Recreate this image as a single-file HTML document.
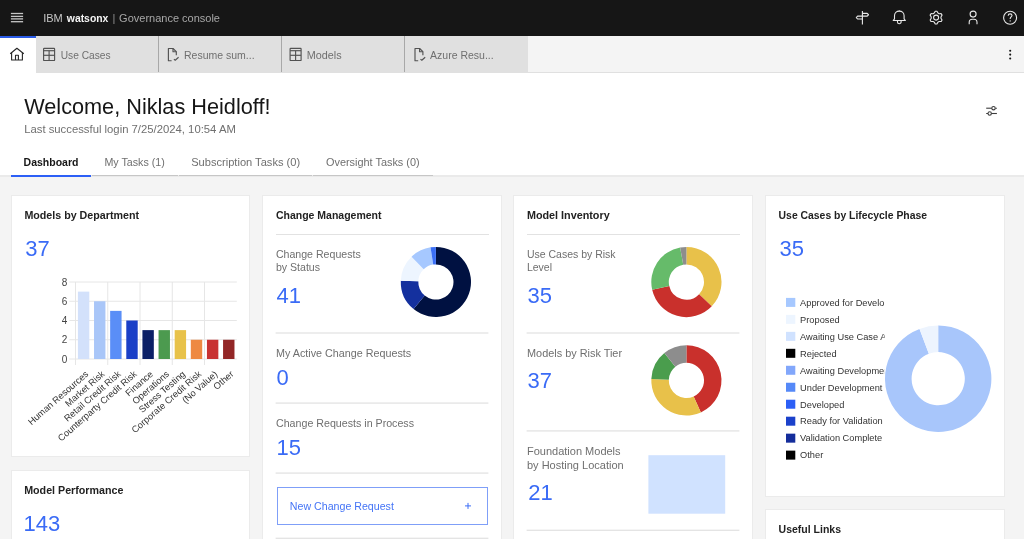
<!DOCTYPE html>
<html><head><meta charset="utf-8"><style>
html,body{margin:0;padding:0;}
body{width:1024px;height:539px;overflow:hidden;position:relative;background:#f4f4f4;font-family:"Liberation Sans", sans-serif;}
.r,.t,.card,.btn{position:absolute;}
.t{white-space:nowrap;line-height:1;}
.card{background:#fff;border:1px solid #ebebeb;}
.btn{border:1px solid #7f9ff8;}
svg{position:absolute;left:0;top:0;will-change:transform;}
svg text{font-family:"Liberation Sans", sans-serif;}
</style></head><body>
<div class="r" style="left:0px;top:0px;width:1024px;height:36px;background:#161616;"></div>
<div class="r" style="left:0px;top:36px;width:1024px;height:36px;background:#f4f4f4;"></div>
<div class="r" style="left:0px;top:72px;width:1024px;height:1px;background:#e0e0e0;"></div>
<div class="r" style="left:0px;top:73px;width:1024px;height:102px;background:#ffffff;"></div>
<div class="r" style="left:0px;top:175px;width:1024px;height:2px;background:#eaeaea;"></div>
<div class="r" style="left:0px;top:177px;width:1024px;height:362px;background:#f4f4f4;"></div>
<div class="r" style="left:0px;top:36px;width:36px;height:37px;background:#ffffff;"></div>
<div class="r" style="left:0px;top:36px;width:36px;height:2px;background:#2a5be6;"></div>
<div class="r" style="left:36px;top:36px;width:491.5px;height:36px;background:#e0e0e0;"></div>
<div class="r" style="left:158px;top:36px;width:1px;height:36px;background:#a8a8a8;"></div>
<div class="r" style="left:281px;top:36px;width:1px;height:36px;background:#a8a8a8;"></div>
<div class="r" style="left:404px;top:36px;width:1px;height:36px;background:#a8a8a8;"></div>
<div class="card" style="left:11px;top:195px;width:237px;height:260px;"></div>
<div class="card" style="left:11px;top:470px;width:237px;height:98px;"></div>
<div class="card" style="left:262px;top:195px;width:238px;height:398px;"></div>
<div class="card" style="left:513px;top:195px;width:238px;height:398px;"></div>
<div class="card" style="left:765px;top:195px;width:238px;height:300px;"></div>
<div class="card" style="left:765px;top:509px;width:238px;height:98px;"></div>
<div class="r" style="left:11px;top:175px;width:80px;height:2px;background:#2c5ff6;"></div>
<div class="r" style="left:92px;top:175px;width:86px;height:1px;background:#c6c6c6;"></div>
<div class="r" style="left:179px;top:175px;width:133px;height:1px;background:#c6c6c6;"></div>
<div class="r" style="left:313px;top:175px;width:120px;height:1px;background:#c6c6c6;"></div>
<div class="r" style="left:275.5px;top:234px;width:213px;height:1px;background:#e2e2e2;"></div>
<div class="btn" style="left:277px;top:487px;width:209px;height:35.5px;"></div>
<div class="r" style="left:526.5px;top:234px;width:213px;height:1px;background:#e2e2e2;"></div>
<svg width="1024" height="539" viewBox="0 0 1024 539">
<rect x="10.9" y="12.85" width="12.2" height="1.3" fill="#c6c6c6"/>
<rect x="10.9" y="15.75" width="12.2" height="1.3" fill="#c6c6c6"/>
<rect x="10.9" y="18.25" width="12.2" height="1.3" fill="#c6c6c6"/>
<rect x="10.9" y="21.05" width="12.2" height="1.3" fill="#c6c6c6"/>
<g transform="translate(852,8)" fill="none" stroke="#e8e8e8" stroke-width="1.1" stroke-linejoin="round"><line x1="10.4" y1="3" x2="10.4" y2="16.4"/><path d="M10.4,5.4 H15.2 L16.5,6.75 L15.2,8.1 H10.4"/><path d="M10.4,8.1 H5.6 L4.3,9.55 L5.6,11.0 H10.4"/></g>
<g transform="translate(888,8)" fill="none" stroke="#e8e8e8" stroke-width="1.1" stroke-linejoin="round"><path d="M5.2,12.5 L6.5,10.9 V7.8 C6.5,5 8.6,3.1 11.3,3.1 C14,3.1 16.1,5 16.1,7.8 V10.9 L17.4,12.5 Z"/><path d="M9.5,12.6 V13.9 A1.8,1.8 0 0 0 13.1,13.9 V12.6"/><line x1="11.3" y1="2.4" x2="11.3" y2="3.3"/></g>
<path d="M935.26,11.21 L936.94,11.21 L937.98,13.07 L939.08,13.71 L941.22,13.67 L942.06,15.13 L940.96,16.96 L940.96,18.24 L942.06,20.07 L941.22,21.53 L939.08,21.49 L937.98,22.13 L936.94,23.99 L935.26,23.99 L934.22,22.13 L933.12,21.49 L930.98,21.53 L930.14,20.07 L931.24,18.24 L931.24,16.96 L930.14,15.13 L930.98,13.67 L933.12,13.71 L934.22,13.07 Z" fill="none" stroke="#e8e8e8" stroke-width="1.1" stroke-linejoin="round"/>
<circle cx="936.1" cy="17.6" r="2.5" fill="none" stroke="#e8e8e8" stroke-width="1.1"/>
<circle cx="973.1" cy="14.1" r="3.0" fill="none" stroke="#e8e8e8" stroke-width="1.1"/>
<path d="M969.2,24.2 V22.3 C969.2,20.5 970.5,19.3 972.3,19.3 H973.9 C975.7,19.3 977.0,20.5 977.0,22.3 V24.2" fill="none" stroke="#e8e8e8" stroke-width="1.1"/>
<circle cx="1010.1" cy="17.7" r="6.5" fill="none" stroke="#e8e8e8" stroke-width="1.1"/>
<path d="M1008.2,15.8 C1008.2,14.6 1009,13.9 1010.1,13.9 C1011.2,13.9 1012,14.6 1012,15.6 C1012,16.8 1010.2,17.1 1010.2,18.5 V19" fill="none" stroke="#e8e8e8" stroke-width="1.1"/>
<circle cx="1010.2" cy="20.9" r="0.7" fill="#e8e8e8"/>
<g fill="none" stroke="#262626" stroke-width="1.1" stroke-linejoin="round"><path d="M10.2,53.7 L16.9,48.3 L23.8,53.7"/><path d="M11.6,52.6 V60 H22.4 V52.6"/><path d="M15.5,60 V55.2 H18.4 V60"/></g>
<g transform="translate(43,47.7)" fill="none" stroke="#525252" stroke-width="1.15"><rect x="0.6" y="0.6" width="11" height="12.2" rx="0.6"/><line x1="0.6" y1="3" x2="11.6" y2="3"/><line x1="0.6" y1="7.6" x2="11.6" y2="7.6"/><line x1="6.1" y1="3" x2="6.1" y2="12.8"/></g>
<g transform="translate(167.4,48)" fill="none" stroke="#525252" stroke-width="1.15" stroke-linejoin="round"><path d="M4.2,12.7 H1 V0.5 H5.6 L8.9,3.7 V7.2"/><path d="M5.6,0.5 V3.7 H8.9"/><path d="M6.5,11.1 L7.8,12.2 L11.2,9.3"/></g>
<g transform="translate(289.5,47.7)" fill="none" stroke="#525252" stroke-width="1.15"><rect x="0.6" y="0.6" width="11" height="12.2" rx="0.6"/><line x1="0.6" y1="3" x2="11.6" y2="3"/><line x1="0.6" y1="7.6" x2="11.6" y2="7.6"/><line x1="6.1" y1="3" x2="6.1" y2="12.8"/></g>
<g transform="translate(414,48)" fill="none" stroke="#525252" stroke-width="1.15" stroke-linejoin="round"><path d="M4.2,12.7 H1 V0.5 H5.6 L8.9,3.7 V7.2"/><path d="M5.6,0.5 V3.7 H8.9"/><path d="M6.5,11.1 L7.8,12.2 L11.2,9.3"/></g>
<circle cx="1010.2" cy="50.7" r="1.05" fill="#161616"/>
<circle cx="1010.2" cy="54.6" r="1.05" fill="#161616"/>
<circle cx="1010.2" cy="58.5" r="1.05" fill="#161616"/>
<g fill="none" stroke="#3d3d3d" stroke-width="1.1"><line x1="986.2" y1="108.2" x2="991.8" y2="108.2"/><line x1="995.3" y1="108.2" x2="996.9" y2="108.2"/><circle cx="993.5" cy="108.2" r="1.7"/><line x1="986.2" y1="113.5" x2="988" y2="113.5"/><line x1="991.4" y1="113.5" x2="996.9" y2="113.5"/><circle cx="989.7" cy="113.5" r="1.7"/></g>
<rect x="275.6" y="332.35" width="212.8" height="1.3" fill="#e3e3e3"/>
<rect x="275.6" y="402.45" width="212.8" height="1.3" fill="#e3e3e3"/>
<rect x="275.6" y="472.45" width="212.8" height="1.3" fill="#e3e3e3"/>
<rect x="275.6" y="537.65" width="212.8" height="1.3" fill="#e3e3e3"/>
<g stroke="#3d6ef7" stroke-width="1"><line x1="465" y1="505.9" x2="471" y2="505.9"/><line x1="468" y1="502.9" x2="468" y2="508.9"/></g>
<rect x="526.6" y="332.35" width="212.8" height="1.3" fill="#e3e3e3"/>
<rect x="526.6" y="430.25" width="212.8" height="1.3" fill="#e3e3e3"/>
<rect x="526.6" y="529.65" width="212.8" height="1.3" fill="#e3e3e3"/>
<rect x="648.4" y="455.2" width="76.8" height="58.5" fill="#d0e2ff"/>
<path d="M435.90,246.90 A35.1,35.1 0 1 1 413.57,309.08 L424.70,295.58 A17.6,17.6 0 1 0 435.90,264.40 Z" fill="#001141"/>
<path d="M413.57,309.08 A35.1,35.1 0 0 1 400.83,280.66 L418.31,281.33 A17.6,17.6 0 0 0 424.70,295.58 Z" fill="#14309e"/>
<path d="M400.83,280.66 A35.1,35.1 0 0 1 411.56,256.71 L423.70,269.32 A17.6,17.6 0 0 0 418.31,281.33 Z" fill="#edf5ff"/>
<path d="M411.56,256.71 A35.1,35.1 0 0 1 430.54,247.31 L433.21,264.61 A17.6,17.6 0 0 0 423.70,269.32 Z" fill="#a6c8ff"/>
<path d="M430.54,247.31 A35.1,35.1 0 0 1 435.90,246.90 L435.90,264.40 A17.6,17.6 0 0 0 433.21,264.61 Z" fill="#3b6ff5"/>
<path d="M686.40,246.90 A35.1,35.1 0 0 1 711.77,306.26 L699.12,294.16 A17.6,17.6 0 0 0 686.40,264.40 Z" fill="#e8c14a"/>
<path d="M711.77,306.26 A35.1,35.1 0 0 1 652.18,289.81 L669.24,285.92 A17.6,17.6 0 0 0 699.12,294.16 Z" fill="#c9302c"/>
<path d="M652.18,289.81 A35.1,35.1 0 0 1 680.13,247.46 L683.26,264.68 A17.6,17.6 0 0 0 669.24,285.92 Z" fill="#66bb6a"/>
<path d="M680.13,247.46 A35.1,35.1 0 0 1 686.40,246.90 L686.40,264.40 A17.6,17.6 0 0 0 683.26,264.68 Z" fill="#8d8d8d"/>
<path d="M686.40,345.30 A35.1,35.1 0 0 1 700.86,412.38 L693.65,396.44 A17.6,17.6 0 0 0 686.40,362.80 Z" fill="#c9302c"/>
<path d="M700.86,412.38 A35.1,35.1 0 0 1 651.33,378.91 L668.82,379.65 A17.6,17.6 0 0 0 693.65,396.44 Z" fill="#e8c14a"/>
<path d="M651.33,378.91 A35.1,35.1 0 0 1 664.35,353.09 L675.34,366.71 A17.6,17.6 0 0 0 668.82,379.65 Z" fill="#4a9d4d"/>
<path d="M664.35,353.09 A35.1,35.1 0 0 1 686.40,345.30 L686.40,362.80 A17.6,17.6 0 0 0 675.34,366.71 Z" fill="#8d8d8d"/>
<path d="M938.20,325.50 A53.2,53.2 0 1 1 919.51,328.89 L928.85,353.80 A26.6,26.6 0 1 0 938.20,352.10 Z" fill="#a8c6fb"/>
<path d="M919.51,328.89 A53.2,53.2 0 0 1 938.20,325.50 L938.20,352.10 A26.6,26.6 0 0 0 928.85,353.80 Z" fill="#edf4fe"/>
<defs><clipPath id="legclip"><rect x="780" y="280" width="104.7" height="200"/></clipPath></defs>
<rect x="786" y="297.90" width="9.3" height="9" fill="#a6c8ff"/>
<text x="800.1" y="305.70" font-size="9.25" fill="#333333" clip-path="url(#legclip)">Approved for Development</text>
<rect x="786" y="314.87" width="9.3" height="9" fill="#edf5ff"/>
<text x="800.1" y="322.67" font-size="9.25" fill="#333333" clip-path="url(#legclip)">Proposed</text>
<rect x="786" y="331.84" width="9.3" height="9" fill="#d0e2ff"/>
<text x="800.1" y="339.64" font-size="9.25" fill="#333333" clip-path="url(#legclip)">Awaiting Use Case Approval</text>
<rect x="786" y="348.81" width="9.3" height="9" fill="#000000"/>
<text x="800.1" y="356.61" font-size="9.25" fill="#333333" clip-path="url(#legclip)">Rejected</text>
<rect x="786" y="365.78" width="9.3" height="9" fill="#82a7fb"/>
<text x="800.1" y="373.58" font-size="9.25" fill="#333333" clip-path="url(#legclip)">Awaiting Development</text>
<rect x="786" y="382.75" width="9.3" height="9" fill="#5589f8"/>
<text x="800.1" y="390.55" font-size="9.25" fill="#333333" clip-path="url(#legclip)">Under Development</text>
<rect x="786" y="399.72" width="9.3" height="9" fill="#2c5ff6"/>
<text x="800.1" y="407.52" font-size="9.25" fill="#333333" clip-path="url(#legclip)">Developed</text>
<rect x="786" y="416.69" width="9.3" height="9" fill="#1b41cb"/>
<text x="800.1" y="424.49" font-size="9.25" fill="#333333" clip-path="url(#legclip)">Ready for Validation</text>
<rect x="786" y="433.66" width="9.3" height="9" fill="#142d9b"/>
<text x="800.1" y="441.46" font-size="9.25" fill="#333333" clip-path="url(#legclip)">Validation Complete</text>
<rect x="786" y="450.63" width="9.3" height="9" fill="#000000"/>
<text x="800.1" y="458.43" font-size="9.25" fill="#333333" clip-path="url(#legclip)">Other</text>
<line x1="69.3" y1="282.0" x2="236.8" y2="282.0" stroke="#e6e6e6" stroke-width="1"/>
<text x="67.4" y="285.60" font-size="10" fill="#444444" text-anchor="end">8</text>
<line x1="69.3" y1="301.25" x2="236.8" y2="301.25" stroke="#e6e6e6" stroke-width="1"/>
<text x="67.4" y="304.85" font-size="10" fill="#444444" text-anchor="end">6</text>
<line x1="69.3" y1="320.5" x2="236.8" y2="320.5" stroke="#e6e6e6" stroke-width="1"/>
<text x="67.4" y="324.10" font-size="10" fill="#444444" text-anchor="end">4</text>
<line x1="69.3" y1="339.75" x2="236.8" y2="339.75" stroke="#e6e6e6" stroke-width="1"/>
<text x="67.4" y="343.35" font-size="10" fill="#444444" text-anchor="end">2</text>
<line x1="69.3" y1="359.0" x2="236.8" y2="359.0" stroke="#e6e6e6" stroke-width="1"/>
<text x="67.4" y="362.60" font-size="10" fill="#444444" text-anchor="end">0</text>
<line x1="75.50" y1="282" x2="75.50" y2="365" stroke="#e6e6e6" stroke-width="1"/>
<line x1="107.76" y1="282" x2="107.76" y2="365" stroke="#e6e6e6" stroke-width="1"/>
<line x1="140.02" y1="282" x2="140.02" y2="365" stroke="#e6e6e6" stroke-width="1"/>
<line x1="172.28" y1="282" x2="172.28" y2="365" stroke="#e6e6e6" stroke-width="1"/>
<line x1="204.54" y1="282" x2="204.54" y2="365" stroke="#e6e6e6" stroke-width="1"/>
<rect x="77.90" y="291.62" width="11.4" height="67.38" fill="#d3e1fb"/>
<text transform="translate(89.10,375) rotate(-41.2)" font-size="9.25" fill="#333333" text-anchor="end">Human Resources</text>
<rect x="94.03" y="301.25" width="11.4" height="57.75" fill="#a9c6f8"/>
<text transform="translate(105.23,375) rotate(-41.2)" font-size="9.25" fill="#333333" text-anchor="end">Market Risk</text>
<rect x="110.16" y="310.88" width="11.4" height="48.12" fill="#5a8ef7"/>
<text transform="translate(121.36,375) rotate(-41.2)" font-size="9.25" fill="#333333" text-anchor="end">Retail Credit Risk</text>
<rect x="126.29" y="320.50" width="11.4" height="38.50" fill="#1a3fc7"/>
<text transform="translate(137.49,375) rotate(-41.2)" font-size="9.25" fill="#333333" text-anchor="end">Counterparty Credit Risk</text>
<rect x="142.42" y="330.12" width="11.4" height="28.88" fill="#0b1f66"/>
<text transform="translate(153.62,375) rotate(-41.2)" font-size="9.25" fill="#333333" text-anchor="end">Finance</text>
<rect x="158.55" y="330.12" width="11.4" height="28.88" fill="#4c9a4f"/>
<text transform="translate(169.75,375) rotate(-41.2)" font-size="9.25" fill="#333333" text-anchor="end">Operations</text>
<rect x="174.68" y="330.12" width="11.4" height="28.88" fill="#e8c24a"/>
<text transform="translate(185.88,375) rotate(-41.2)" font-size="9.25" fill="#333333" text-anchor="end">Stress Testing</text>
<rect x="190.81" y="339.75" width="11.4" height="19.25" fill="#ee8942"/>
<text transform="translate(202.01,375) rotate(-41.2)" font-size="9.25" fill="#333333" text-anchor="end">Corporate Credit Risk</text>
<rect x="206.94" y="339.75" width="11.4" height="19.25" fill="#c83232"/>
<text transform="translate(218.14,375) rotate(-41.2)" font-size="9.25" fill="#333333" text-anchor="end">(No Value)</text>
<rect x="223.07" y="339.75" width="11.4" height="19.25" fill="#922626"/>
<text transform="translate(234.27,375) rotate(-41.2)" font-size="9.25" fill="#333333" text-anchor="end">Other</text>
</svg>
<div id="tx" style="position:absolute;left:0;top:0;width:1024px;height:539px;will-change:transform;">
<div class="t" style="left:43.20px;top:13px;font-size:11px;color:#c6c6c6;">IBM</div>
<div class="t" style="left:66.80px;top:14px;font-size:10.4px;font-weight:700;color:#f4f4f4;">watsonx</div>
<div class="t" style="left:112.50px;top:13px;font-size:11px;color:#8d8d8d;">|</div>
<div class="t" style="left:119.10px;top:13px;font-size:11px;color:#a8a8a8;">Governance console</div>
<div class="t" style="left:60.70px;top:51px;font-size:10.2px;color:#6f6f6f;">Use Cases</div>
<div class="t" style="left:184.00px;top:50px;font-size:10.5px;color:#6f6f6f;">Resume sum...</div>
<div class="t" style="left:306.80px;top:50px;font-size:10.8px;color:#6f6f6f;">Models</div>
<div class="t" style="left:430.10px;top:50px;font-size:10.5px;color:#6f6f6f;">Azure Resu...</div>
<div class="t" style="left:24.20px;top:96px;font-size:21.7px;color:#161616;">Welcome, Niklas Heidloff!</div>
<div class="t" style="left:24.20px;top:124px;font-size:11.3px;color:#6f6f6f;">Last successful login 7/25/2024, 10:54 AM</div>
<div class="t" style="left:23.60px;top:157px;font-size:10.5px;font-weight:700;color:#161616;">Dashboard</div>
<div class="t" style="left:104.40px;top:157px;font-size:10.7px;color:#6f6f6f;">My Tasks (1)</div>
<div class="t" style="left:191.20px;top:157px;font-size:11.1px;color:#6f6f6f;">Subscription Tasks (0)</div>
<div class="t" style="left:326.00px;top:157px;font-size:10.9px;color:#6f6f6f;">Oversight Tasks (0)</div>
<div class="t" style="left:24.40px;top:210px;font-size:10.7px;font-weight:700;color:#222222;">Models by Department</div>
<div class="t" style="left:25.30px;top:238px;font-size:22px;color:#3a6bf6;">37</div>
<div class="t" style="left:275.90px;top:210px;font-size:10.5px;font-weight:700;color:#222222;">Change Management</div>
<div class="t" style="left:526.90px;top:210px;font-size:10.8px;font-weight:700;color:#222222;">Model Inventory</div>
<div class="t" style="left:778.60px;top:211px;font-size:10.4px;font-weight:700;color:#222222;">Use Cases by Lifecycle Phase</div>
<div class="t" style="left:779.60px;top:238px;font-size:22px;color:#3a6bf6;">35</div>
<div class="t" style="left:24.20px;top:485px;font-size:10.7px;font-weight:700;color:#222222;">Model Performance</div>
<div class="t" style="left:23.60px;top:513px;font-size:22px;color:#3a6bf6;">143</div>
<div class="t" style="left:778.60px;top:524px;font-size:10.5px;font-weight:700;color:#222222;">Useful Links</div>
<div class="t" style="left:275.90px;top:249px;font-size:10.6px;color:#6f6f6f;">Change Requests</div>
<div class="t" style="left:275.90px;top:262px;font-size:10.6px;color:#6f6f6f;">by Status</div>
<div class="t" style="left:276.50px;top:285px;font-size:22px;color:#3a6bf6;">41</div>
<div class="t" style="left:276.00px;top:348px;font-size:10.77px;color:#6f6f6f;">My Active Change Requests</div>
<div class="t" style="left:276.50px;top:367px;font-size:22px;color:#3a6bf6;">0</div>
<div class="t" style="left:276.00px;top:418px;font-size:10.67px;color:#6f6f6f;">Change Requests in Process</div>
<div class="t" style="left:276.50px;top:437px;font-size:22px;color:#3a6bf6;">15</div>
<div class="t" style="left:289.80px;top:501px;font-size:10.65px;color:#4474f6;">New Change Request</div>
<div class="t" style="left:526.90px;top:249px;font-size:10.5px;color:#6f6f6f;">Use Cases by Risk</div>
<div class="t" style="left:526.90px;top:262px;font-size:10.5px;color:#6f6f6f;">Level</div>
<div class="t" style="left:527.50px;top:285px;font-size:22px;color:#3a6bf6;">35</div>
<div class="t" style="left:527.00px;top:348px;font-size:10.9px;color:#6f6f6f;">Models by Risk Tier</div>
<div class="t" style="left:527.50px;top:370px;font-size:22px;color:#3a6bf6;">37</div>
<div class="t" style="left:527.00px;top:446px;font-size:11px;color:#6f6f6f;">Foundation Models</div>
<div class="t" style="left:527.00px;top:460px;font-size:11px;color:#6f6f6f;">by Hosting Location</div>
<div class="t" style="left:528.20px;top:482px;font-size:22px;color:#3a6bf6;">21</div>
</div>
</body></html>
